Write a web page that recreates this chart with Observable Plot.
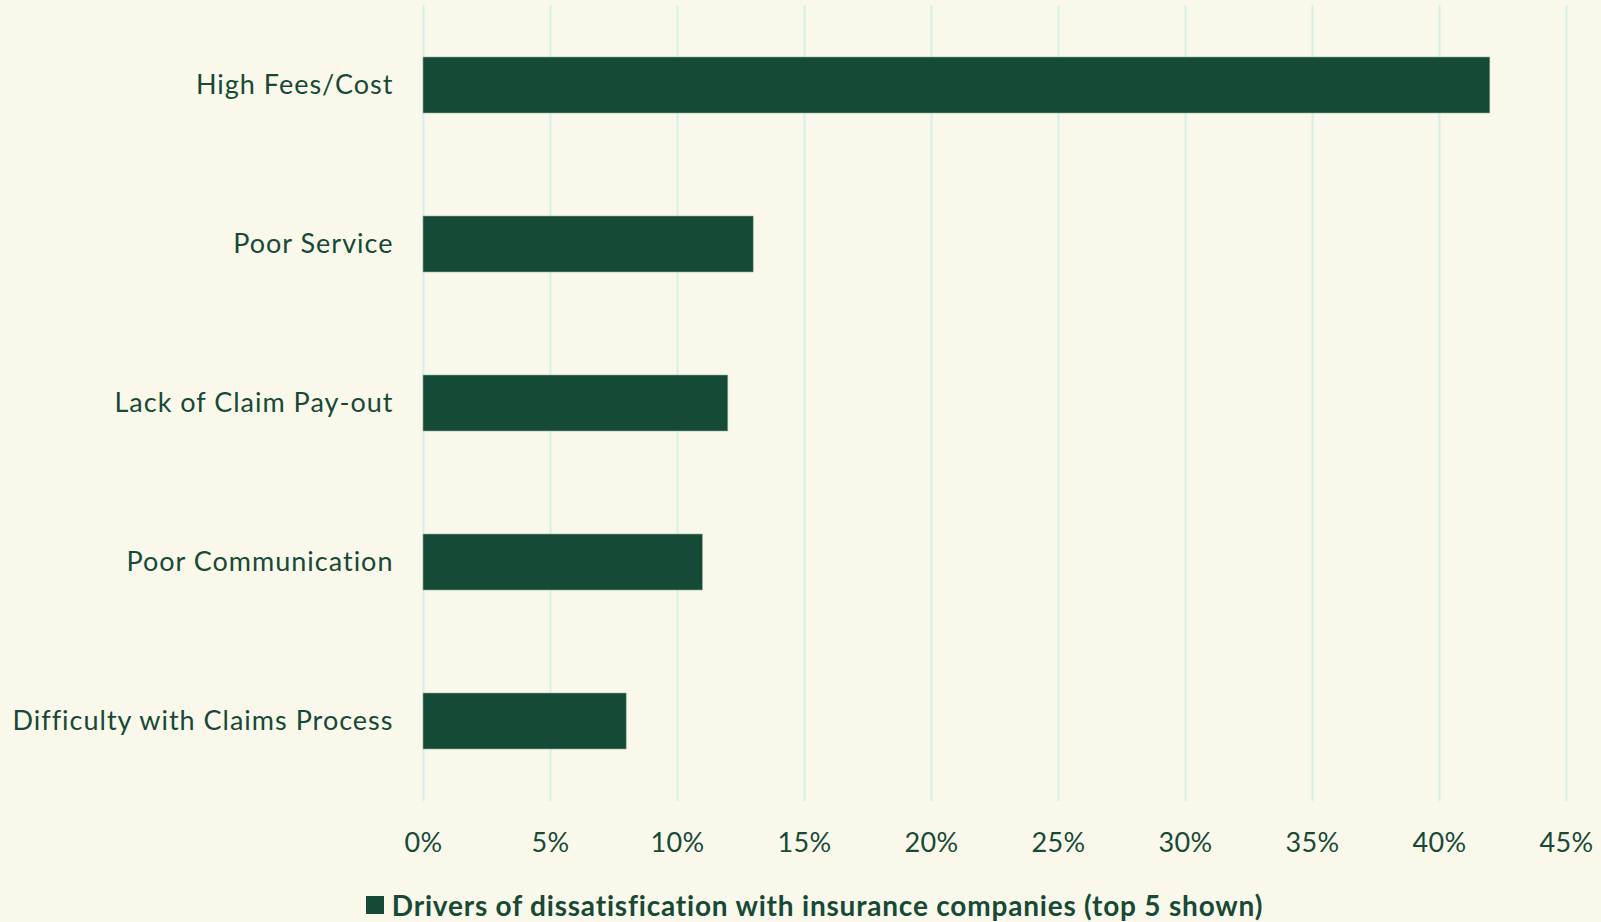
<!DOCTYPE html>
<html>
<head>
<meta charset="utf-8">
<script src="https://cdn.jsdelivr.net/npm/d3@7"></script>
<script src="https://cdn.jsdelivr.net/npm/@observablehq/plot@0.6"></script>
<style>
  html, body { margin: 0; padding: 0; background: #faf8ea; }
  #chart { width: 1601px; }
  .legend { font-family: Lato, "Noto Sans", sans-serif; font-weight: 700; font-size: 28px; letter-spacing: 0.8px; color: #164a36;
            display: flex; align-items: center; justify-content: center; height: 42px; padding-left: 28px; margin-top: 4px; }
  .legend .sw { width: 18px; height: 18px; background: #154a37; margin-right: 8px; }
  .yax text { letter-spacing: 1px; }
  .xax text { letter-spacing: 0.4px; }
</style>
</head>
<body>
<div id="chart"></div>
<script>
const categories = ["High Fees/Cost", "Poor Service", "Lack of Claim Pay-out", "Poor Communication", "Difficulty with Claims Process"];
const values = [0.42, 0.13, 0.12, 0.11, 0.08];
const xTicks = [0, 0.05, 0.10, 0.15, 0.20, 0.25, 0.30, 0.35, 0.40, 0.45];
const seriesName = "Drivers of dissatisfication with insurance companies (top 5 shown)";

const data = categories.map((c, i) => ({category: c, value: values[i]}));
const ink = "#164a36";

const chart = Plot.plot({
  width: 1601,
  height: 880,
  marginLeft: 423,
  marginRight: 35,
  marginTop: 5,
  marginBottom: 79,
  style: {background: "#faf8ea", fontFamily: "Lato, 'Noto Sans', sans-serif", fontSize: "27px", color: ink},
  x: {domain: [0, 0.45], ticks: xTicks, tickFormat: d => Math.round(d * 100) + "%", label: null},
  y: {domain: categories, paddingInner: 0.65, paddingOuter: 0.325, label: null},
  marks: [
    Plot.ruleX(xTicks, {stroke: "#d3f1e5", strokeWidth: 2}),
    Plot.barX(data, {x: "value", y: "category", fill: "#154a37", stroke: "#8fb0a0", strokeWidth: 0.6}),
    Plot.axisX({ticks: xTicks, tickFormat: d => Math.round(d * 100) + "%", tickSize: 0, tickPadding: 31, fontSize: 27, fill: ink, label: null, className: "xax"}),
    Plot.axisY({tickSize: 0, tickPadding: 30, fontSize: 27, fill: ink, label: null, className: "yax"})
  ]
});
document.getElementById("chart").appendChild(chart);

const legend = document.createElement("div");
legend.className = "legend";
legend.innerHTML = `<span class="sw"></span><span></span>`;
legend.lastChild.textContent = seriesName;
document.getElementById("chart").appendChild(legend);
</script>
</body>
</html>
